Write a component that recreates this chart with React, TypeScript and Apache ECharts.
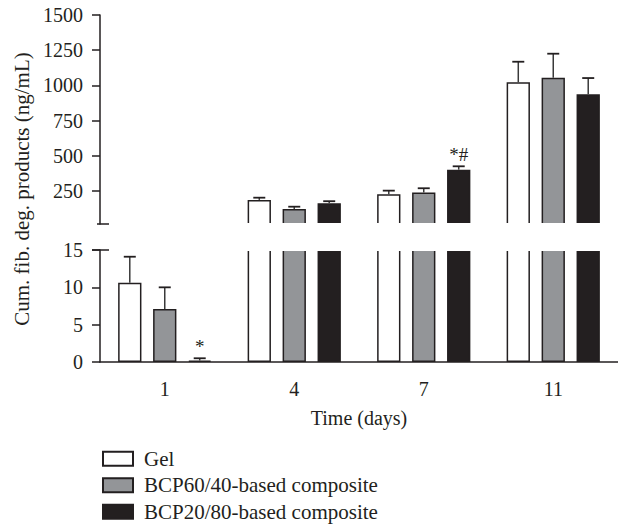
import React, { useEffect, useRef } from "react";
import * as echarts from "echarts";

const categories = ["1", "4", "7", "11"];
const seriesNames = ["Gel", "BCP60/40-based composite", "BCP20/80-based composite"];
const gelMean = [10.6, 186, 227, 1022];
const gelErr = [3.5, 16, 25, 146];
const bcp6040Mean = [7.1, 122, 238, 1055];
const bcp6040Err = [2.9, 16, 31, 170];
const bcp2080Mean = [0.2, 163, 401, 937];
const bcp2080Err = [0.3, 14, 24, 115];
const gelMarks = ["", "", "", ""];
const bcp6040Marks = ["", "", "", ""];
const bcp2080Marks = ["*", "", "*#", ""];
const upperTicks = [250, 500, 750, 1000, 1250, 1500];
const breakValue = 15;

const FONT = "Liberation Serif";
const INK = "#231f20";
const fills = ["#ffffff", "#939598", "#231f20"];

export default function App() {
  const ref = useRef<HTMLDivElement>(null);
  useEffect(() => {
    if (!ref.current) return;
    document.body.style.margin = "0";
    const chart = echarts.init(ref.current, undefined, { renderer: "svg" });
    const means = [gelMean, bcp6040Mean, bcp2080Mean];
    const errs = [gelErr, bcp6040Err, bcp2080Err];
    const marks = [gelMarks, bcp6040Marks, bcp2080Marks];

    const gridTop = 15, upperH = 209, lowerTop = 250, lowerH = 112, left = 100;

    const series: any[] = [];
    for (let g = 0; g < 2; g++) {
      for (let k = 0; k < 3; k++) {
        series.push({
          type: "bar",
          name: seriesNames[k],
          xAxisIndex: g,
          yAxisIndex: g,
          data: means[k],
          barGap: "50%",
          barCategoryGap: "28%",
          clip: true,
          itemStyle: { color: fills[k], borderColor: INK, borderWidth: 1.5 },
        });
      }
      for (let k = 0; k < 3; k++) {
        series.push({
          type: "custom",
          xAxisIndex: g,
          yAxisIndex: g,
          z: 4,
          clip: true,
          data: means[k].map((m, i) => [i, m, errs[k][i]]),
          renderItem: (params: any, api: any) => {
            const i = api.value(0);
            const mean = api.value(1);
            const err = api.value(2);
            if (g === 0 && mean < breakValue) return null;
            if (g === 1 && mean > breakValue) return null;
            const cw = api.size([1, 0])[0];
            const bw = (cw * 0.72) / 4;
            const off = (k - 1) * bw * 1.5;
            const b = api.coord([i, mean]);
            const t = api.coord([i, mean + err]);
            const x = b[0] + off;
            const children: any[] = [
              { type: "line", shape: { x1: x, y1: b[1], x2: x, y2: t[1] }, style: { stroke: "#3a3a3a", lineWidth: 1.5 } },
              { type: "line", shape: { x1: x - 6, y1: t[1], x2: x + 6, y2: t[1] }, style: { stroke: INK, lineWidth: 1.8 } },
            ];
            const mk = marks[k][params.dataIndex];
            if (mk) {
              children.push({
                type: "text",
                style: { text: mk, x: x, y: t[1] - 2, align: "center", verticalAlign: "bottom", font: `19px "${FONT}"`, fill: INK },
              });
            }
            return { type: "group", children };
          },
        });
      }
    }

    const labelStyle = { color: INK, fontFamily: FONT, fontSize: 20 };

    chart.setOption({
      animation: false,
      grid: [
        { left, right: 0, top: gridTop, height: upperH },
        { left, right: 0, top: lowerTop, height: lowerH },
      ],
      xAxis: [
        { type: "category", gridIndex: 0, data: categories, show: false },
        {
          type: "category",
          gridIndex: 1,
          data: categories,
          axisLine: { lineStyle: { color: INK, width: 1.5 } },
          axisTick: { alignWithLabel: true, length: 9, lineStyle: { color: INK, width: 1.5 } },
          axisLabel: { ...labelStyle, margin: 17 },
          name: "Time (days)",
          nameLocation: "middle",
          nameGap: 46,
          nameTextStyle: labelStyle,
        },
      ],
      yAxis: [
        {
          type: "value",
          gridIndex: 0,
          min: breakValue,
          max: 1500,
          splitLine: { show: false },
          axisLine: { show: true, lineStyle: { color: INK, width: 1.5 } },
          axisTick: { show: true, length: 8, customValues: upperTicks, lineStyle: { color: INK, width: 1.5 } },
          axisLabel: { ...labelStyle, customValues: upperTicks, margin: 17, formatter: (v: number) => String(v) },
        },
        {
          type: "value",
          gridIndex: 1,
          min: 0,
          max: 15,
          interval: 5,
          splitLine: { show: false },
          axisLine: { show: true, lineStyle: { color: INK, width: 1.5 } },
          axisTick: { show: true, length: 8, lineStyle: { color: INK, width: 1.5 } },
          axisLabel: { ...labelStyle, margin: 17, formatter: (v: number) => String(v) },
        },
      ],
      legend: {
        data: seriesNames,
        orient: "vertical",
        left: 102,
        top: 448,
        padding: 0,
        itemWidth: 30,
        itemHeight: 14,
        itemGap: 5,
        icon: "rect",
        textStyle: { ...labelStyle, fontSize: 21, lineHeight: 21.5, padding: [0, 0, 0, 6] },
      },
      graphic: [
        {
          type: "rect",
          z: 50,
          shape: { x: left + 1, y: gridTop + upperH - 1, width: 618, height: lowerTop - gridTop - upperH + 2 },
          style: { fill: "#ffffff" },
        },
        {
          type: "line",
          z: 60,
          shape: { x1: left - 3, y1: gridTop + upperH, x2: left + 9, y2: gridTop + upperH },
          style: { stroke: INK, lineWidth: 1.5 },
        },
        {
          type: "line",
          z: 60,
          shape: { x1: left - 8, y1: lowerTop, x2: left + 9, y2: lowerTop },
          style: { stroke: INK, lineWidth: 1.5 },
        },
        {
          type: "text",
          z: 60,
          x: 22,
          y: 189,
          rotation: Math.PI / 2,
          style: {
            text: "Cum. fib. deg. products (ng/mL)",
            align: "center",
            verticalAlign: "middle",
            font: `21px "${FONT}"`,
            fill: INK,
          },
        },
      ],
      series,
    });
    return () => chart.dispose();
  }, []);
  return <div ref={ref} style={{ width: 618, height: 524 }} />;
}
